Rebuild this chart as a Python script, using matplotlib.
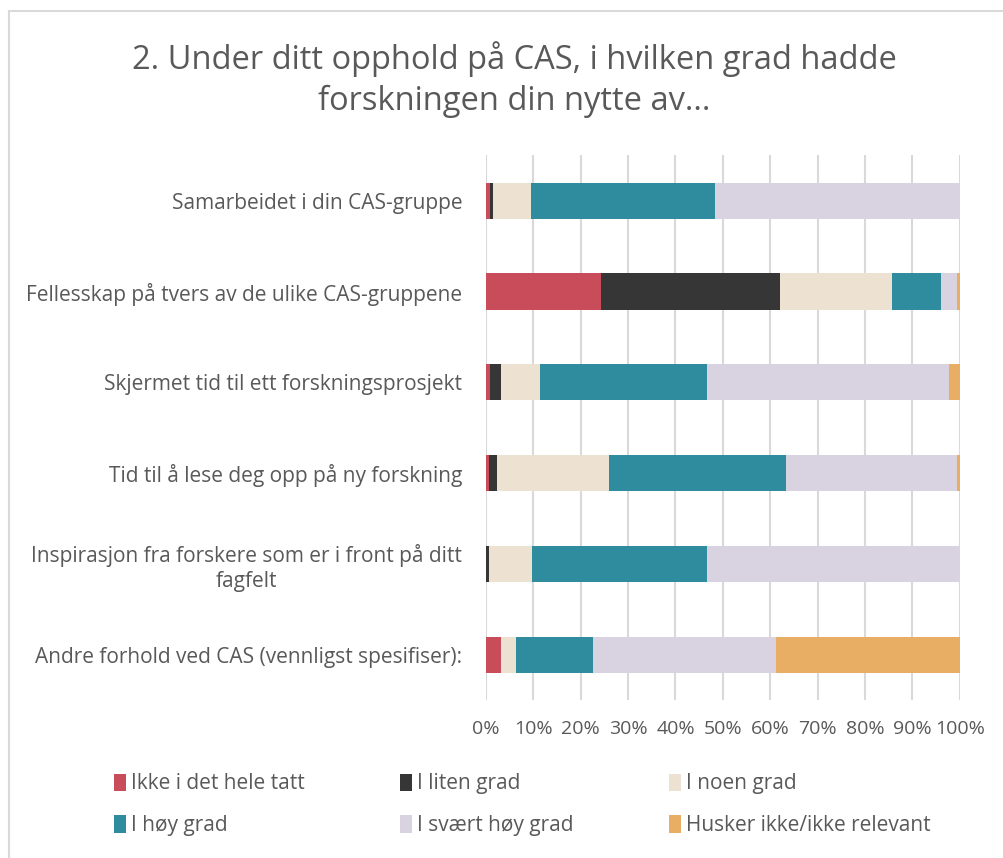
import matplotlib.pyplot as plt
from matplotlib.patches import Rectangle
from matplotlib.ticker import PercentFormatter, MultipleLocator

plt.rcParams['font.family'] = ['Open Sans', 'DejaVu Sans']

# survey answers, share of respondents in percent
categories = [
    'Samarbeidet i din CAS-gruppe',
    'Fellesskap på tvers av de ulike CAS-gruppene',
    'Skjermet tid til ett forskningsprosjekt',
    'Tid til å lese deg opp på ny forskning',
    'Inspirasjon fra forskere som er i front på ditt\nfagfelt',
    'Andre forhold ved CAS (vennligst spesifiser):',
]
series_names = ['Ikke i det hele tatt', 'I liten grad', 'I noen grad',
                'I høy grad', 'I svært høy grad', 'Husker ikke/ikke relevant']
ikke = [0.8, 24.2, 0.8, 0.7, 0.0, 3.2]
liten = [0.6, 37.8, 2.4, 1.6, 0.7, 0.0]
noen = [8.1, 23.6, 8.2, 23.6, 9.1, 3.2]
hoy = [38.8, 10.4, 35.2, 37.5, 36.8, 16.1]
svaert_hoy = [51.7, 3.3, 51.1, 35.9, 53.4, 38.8]
husker = [0.0, 0.7, 2.3, 0.7, 0.0, 38.7]

colors = ['#C94C5B', '#363636', '#EDE1D2', '#2E8C9E', '#D9D2E0', '#E8AE64']
txt = '#595959'

fig = plt.figure(figsize=(10.04, 8.58), dpi=100)
ax = fig.add_axes([0.484, 0.184, 0.472, 0.635])

ypos = list(range(len(categories)))
left = [0.0] * len(categories)
bars = []
for name, vals, c in zip(series_names, [ikke, liten, noen, hoy, svaert_hoy, husker], colors):
    b = ax.barh(ypos, vals, left=left, height=0.4, color=c, label=name, zorder=3)
    bars.append(b)
    left = [l + v for l, v in zip(left, vals)]

ax.set_xlim(0, 100)
ax.set_ylim(len(categories) - 0.5, -0.5)
ax.xaxis.set_major_locator(MultipleLocator(10))
ax.xaxis.set_major_formatter(PercentFormatter(100, decimals=0))
ax.set_yticks(ypos)
ax.set_yticklabels(categories)
for lab in ax.get_yticklabels():
    lab.set_multialignment('center')
ax.tick_params(axis='both', length=0, labelsize=14, colors=txt)
ax.tick_params(axis='y', labelsize=15, pad=17)
ax.tick_params(axis='x', pad=14)
ax.grid(axis='x', color='#D9D9D9', linewidth=1.5, zorder=0)
for s in ax.spines.values():
    s.set_visible(False)

fig.text(0.512, 0.907, '2. Under ditt opphold på CAS, i hvilken grad hadde\nforskningen din nytte av...',
         ha='center', va='center', fontsize=23.5, color=txt, linespacing=1.3)

order = [0, 3, 1, 4, 2, 5]
fig.legend([bars[i] for i in order], [series_names[i] for i in order], ncol=3,
           loc='center left', bbox_to_anchor=(0.095, 0.062), frameon=False,
           fontsize=15, labelcolor=txt, handlelength=0.55, handleheight=0.9,
           handletextpad=0.25, columnspacing=4.6, labelspacing=1.0)

fig.patches.append(Rectangle((0.009, -0.1), 1.2, 1.087, transform=fig.transFigure,
                             fill=False, edgecolor='#D9D9D9', linewidth=1.5))

fig.savefig('out.png', dpi=100)
